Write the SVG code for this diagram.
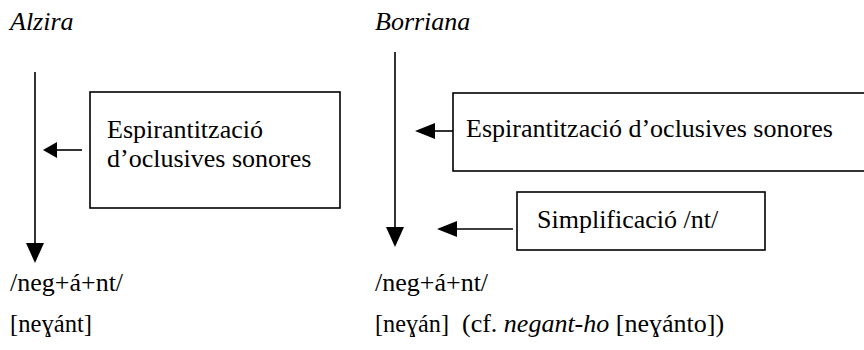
<svg xmlns="http://www.w3.org/2000/svg" width="864" height="350" viewBox="0 0 864 350">
<style>
text{font-family:"Liberation Serif","DejaVu Serif",serif;font-size:26px;fill:#000}
.it{font-style:italic}
.box{fill:#fff;stroke:#000;stroke-width:1.6}
.ln{stroke:#000;stroke-width:1.6;fill:none}
.hd{fill:#000}
</style>
<rect width="864" height="350" fill="#fff"/>
<g id="labels">
<text class="it" x="10" y="30">Alzira</text>
<text class="it" x="375" y="30">Borriana</text>
</g>
<g id="connectors">
<line class="ln" x1="35" y1="72" x2="35" y2="248"/>
<polygon class="hd" points="26,243 44,243 35,263"/>
<line class="ln" x1="395" y1="52" x2="395" y2="232"/>
<polygon class="hd" points="386,227 404,227 395,247"/>
<line class="ln" x1="82" y1="150" x2="54" y2="150"/>
<polygon class="hd" points="43,150 57,142 57,158"/>
<line class="ln" x1="453" y1="131" x2="432" y2="131"/>
<polygon class="hd" points="415,131 435,123 435,139"/>
<line class="ln" x1="513" y1="229" x2="452" y2="229"/>
<polygon class="hd" points="437,229 457,221 457,237"/>
</g>
<g id="node-espirantitzacio-alzira">
<rect class="box" x="90" y="92" width="250" height="116"/>
<text x="107" y="138">Espirantització</text>
<text x="107" y="167">d’oclusives sonores</text>
</g>
<g id="node-espirantitzacio-borriana">
<rect class="box" x="453" y="93" width="415" height="78"/>
<text x="466" y="137">Espirantització d’oclusives sonores</text>
</g>
<g id="node-simplificacio">
<rect class="box" x="517" y="192" width="248" height="58"/>
<text x="537" y="228">Simplificació /nt/</text>
</g>
<g id="forms">
<text x="10" y="291">/neg+á+nt/</text>
<text x="10" y="332" textLength="82" lengthAdjust="spacingAndGlyphs">[neɣánt]</text>
<text x="375" y="291">/neg+á+nt/</text>
<text x="375" y="332" textLength="74" lengthAdjust="spacingAndGlyphs">[neɣán]</text>
<text x="462" y="332">(cf. <tspan class="it">negant-ho</tspan> [neɣánto])</text>
</g>
</svg>
